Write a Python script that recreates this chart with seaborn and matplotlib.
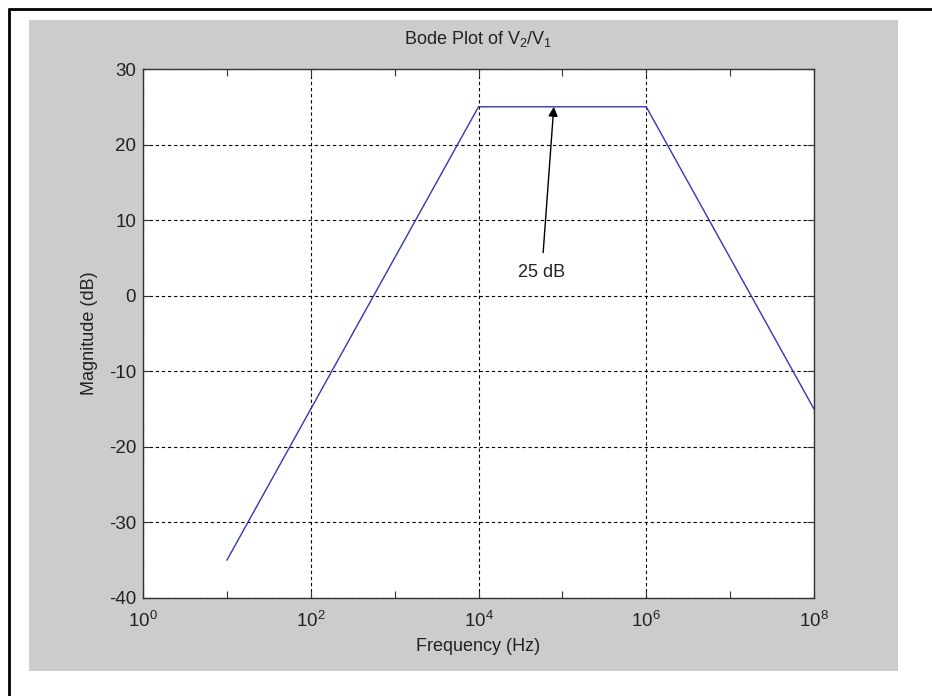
import matplotlib
matplotlib.use("Agg")
import matplotlib.pyplot as plt
import matplotlib.ticker as mticker
from matplotlib.patches import Rectangle
from matplotlib.lines import Line2D
import seaborn as sns
import pandas as pd

# Dados (assintotas do diagrama de Bode)
freq_hz = [1e1, 1e4, 1e6, 1e8]
magnitude_db = [-35, 25, 25, -15]
x_ticks = [1e0, 1e2, 1e4, 1e6, 1e8]
x_minor = [1e1, 1e3, 1e5, 1e7]
y_ticks = [-40, -30, -20, -10, 0, 10, 20, 30]
note_text = "25 dB"
note_tip = (7.9e4, 25)
note_tail = (5.9e4, 5.7)
note_pos = (5.7e4, 3.1)

df = pd.DataFrame({"freq": freq_hz, "mag": magnitude_db})

sns.set_style("ticks")
plt.rcParams['font.family'] = ['Liberation Sans', 'DejaVu Sans']
plt.rcParams['mathtext.fontset'] = 'custom'
plt.rcParams['mathtext.rm'] = 'Liberation Sans'
plt.rcParams['mathtext.it'] = 'Liberation Sans'
plt.rcParams['mathtext.default'] = 'regular'
plt.rcParams['axes.unicode_minus'] = False

fig = plt.figure(figsize=(9.32, 6.96), dpi=100, facecolor="white")

# fundo cinza estilo MATLAB
fig.add_artist(Rectangle((29 / 932, 1 - 671 / 696), (898 - 29) / 932, (671 - 20) / 696,
                         transform=fig.transFigure, facecolor="#cccccc", edgecolor="none", zorder=-2))
# moldura preta
y_top = 1 - 9 / 696
x_left = 9 / 932
fig.add_artist(Line2D([x_left, x_left], [0, y_top], transform=fig.transFigure, color="black", lw=2))
fig.add_artist(Line2D([x_left, 1], [y_top, y_top], transform=fig.transFigure, color="black", lw=2))

ax = fig.add_axes([143 / 932, 1 - 598 / 696, (814 - 143) / 932, (598 - 69) / 696])
ax.set_facecolor("white")

sns.lineplot(data=df, x="freq", y="mag", color="#3535b0", lw=1.0, ax=ax)

ax.set_xscale("log")
ax.set_xlim(1e0, 1e8)
ax.set_ylim(-40, 30)
ax.xaxis.set_major_locator(mticker.FixedLocator(x_ticks))
ax.xaxis.set_major_formatter(mticker.LogFormatterSciNotation())
ax.xaxis.set_minor_locator(mticker.FixedLocator(x_minor))
ax.xaxis.set_minor_formatter(mticker.NullFormatter())
ax.set_yticks(y_ticks)
ax.yaxis.set_minor_locator(mticker.NullLocator())

ax.grid(True, which="major", color="black", linestyle=(0, (3, 2.5)), lw=0.8)
ax.tick_params(which="both", direction="in", top=True, right=True, length=5,
               width=0.8, color="#333333", labelsize=13.5, labelcolor="#222222")
ax.tick_params(axis="y", pad=5)
ax.tick_params(axis="x", pad=9)
for s in ax.spines.values():
    s.set_color("#333333")
    s.set_linewidth(1.0)

ax.set_title("Bode Plot of V$_2$/V$_1$", fontsize=13, pad=18, color="#222222")
ax.set_xlabel("Frequency (Hz)", fontsize=13, color="#222222", labelpad=5)
ax.set_ylabel("Magnitude (dB)", fontsize=13, color="#222222", labelpad=8)

ax.annotate("", xy=note_tip, xytext=note_tail,
            arrowprops=dict(arrowstyle="-|>", color="black", lw=1.0, mutation_scale=14,
                            shrinkA=0, shrinkB=0))
ax.text(note_pos[0], note_pos[1], note_text, ha="center", va="center", fontsize=13, color="#222222")

fig.savefig("out.png", dpi=100, facecolor="white")
